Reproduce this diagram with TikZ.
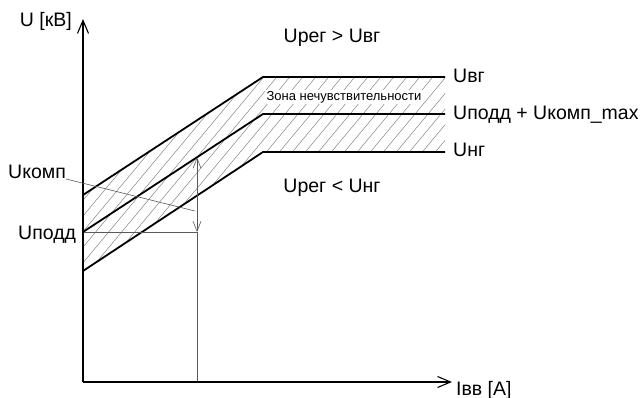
\documentclass[tikz,border=0pt]{standalone}
\usepackage{fontspec}
\setmainfont{Liberation Sans}
\usetikzlibrary{arrows.meta}
\begin{document}
\begin{tikzpicture}[x=1pt, y=-1pt,
        axis/.style={line width=1.2pt, -{Straight Barb[length=13pt, width=11pt, line width=1.1pt]}},
        limit/.style={line width=1.8pt},
        guide/.style={line width=0.6pt, black!65},
        hatch/.style={line width=0.4pt, black!55},
        lbl/.style={font=\fontsize{19.5}{22}\selectfont, inner sep=0pt},
        zone/.style={font=\fontsize{13}{15}\selectfont, fill=white, inner sep=1.5pt}
    ]
        \useasboundingbox (0,0) rectangle (644,398);

        % axis points
        \coordinate (o) at (83,382);
        \coordinate (ytop) at (83,19);
        \coordinate (xend) at (452,382);

        % limit lines
        \coordinate (vg0) at (83,195);  \coordinate (vg1) at (263,77);  \coordinate (vg2) at (445,77);
        \coordinate (pk0) at (83,232);  \coordinate (pk1) at (263,114); \coordinate (pk2) at (445,114);
        \coordinate (ng0) at (83,271);  \coordinate (ng1) at (263,152); \coordinate (ng2) at (445,152);

        % working point
        \coordinate (ib) at (197,382);
        \coordinate (ip) at (197,232);
        \coordinate (ik) at (197,157.5);
        \coordinate (lead) at (195,211);

        % hatched band
        \begin{scope}
            \clip (vg0) -- (vg1) -- (vg2) -- (ng2) -- (ng1) -- (ng0) -- cycle;
            \foreach \s in {-104,-91,...,430}
                \draw[hatch] (\s,300) -- ++(250,-300);
        \end{scope}
        \node[zone] (zn) at (344,97) {Зона нечувствительности};

        \draw[limit] (vg0) -- (vg1) -- (vg2);
        \draw[limit] (pk0) -- (pk1) -- (pk2);
        \draw[limit] (ng0) -- (ng1) -- (ng2);

        \draw[guide] (pk0) -- (ip);
        \draw[guide] (ib) -- (ip);
        \draw[guide, {Straight Barb[length=10pt, width=8pt]}-{Straight Barb[length=10pt, width=8pt]}] (ip) -- (ik);

        \draw[axis] (o) -- (ytop);
        \draw[axis] (o) -- (xend);

        % labels
        \node[lbl, anchor=east] (uax) at (72,21) {U [кВ]};
        \node[lbl, anchor=west] (iax) at (456,390) {Iвв [А]};
        \node[lbl] (up) at (332,38) {Uрег > Uвг};
        \node[lbl] (dn) at (332,188) {Uрег < Uнг};
        \node[lbl, anchor=west] (lvg) at (453,76) {Uвг};
        \node[lbl, anchor=west] (lpk) at (453,115) {Uподд + Uкомп\_max};
        \node[lbl, anchor=west] (lng) at (453,150) {Uнг};
        \node[lbl, anchor=west] (komp) at (8,172) {Uкомп};
        \node[lbl, anchor=west] (podd) at (18,235) {Uподд};

        \draw[guide] (komp.south east) -- (lead);
    \end{tikzpicture}
\end{document}
